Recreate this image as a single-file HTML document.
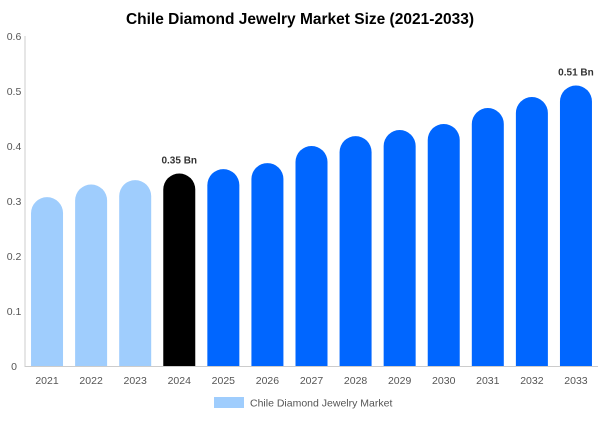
<!DOCTYPE html>
<html><head><meta charset="utf-8"><style>
body{margin:0;background:#fff;font-family:"Liberation Sans",Arial,sans-serif}
</style></head><body>
<svg id="chart" width="600" height="416" xmlns="http://www.w3.org/2000/svg" font-family="Liberation Sans, Arial, sans-serif">
<text x="300" y="24" text-anchor="middle" font-size="15.5" font-weight="bold" fill="#000">Chile Diamond Jewelry Market Size (2021-2033)</text>
<g id="axes"></g><g id="bars"></g>
<g>
<rect x="214" y="397" width="30" height="11" fill="#9fcdfd"/>
<text x="250" y="406.5" font-size="10.5" fill="#555">Chile Diamond Jewelry Market</text>
</g>
</svg>
<script>
const categories=["2021","2022","2023","2024","2025","2026","2027","2028","2029","2030","2031","2032","2033"];
const values=[0.307,0.33,0.338,0.35,0.358,0.369,0.40,0.418,0.429,0.44,0.469,0.489,0.51];
const yTicks=[0,0.1,0.2,0.3,0.4,0.5,0.6];
const labels={"2024":"0.35 Bn","2033":"0.51 Bn"};
const NS="http://www.w3.org/2000/svg";
const x0=25,x1=598,y0=366,yTop=36,band=(x1-x0)/categories.length,bw=32;
const y=v=>y0-(v/0.6)*(y0-yTop);
const xc=i=>x0+band*(i+0.5);
function mk(t,a,p){const e=document.createElementNS(NS,t);for(const k in a)e.setAttribute(k,a[k]);p.appendChild(e);return e;}
const ax=document.getElementById('axes'),bars=document.getElementById('bars');
const yl=mk('line',{x1:x0,y1:yTop,x2:x0,y2:y0+1,stroke:'#ccc'},ax);


const xl=mk('line',{x1:x0,y1:y0+0.5,x2:x1,y2:y0+0.5,stroke:'#ccc'},ax);


yTicks.forEach(t=>{const e=mk('text',{x:14,y:y(t)+4,'text-anchor':'middle','font-size':'10.5',fill:'#555'},ax);e.textContent=String(t);

});
categories.forEach((c,i)=>{
 const cx=xc(i),top=y(values[i]),r=bw/2;
 const col=i<3?'#9fcdfd':(c==='2024'?'#000':'#0066ff');
 const p=mk('path',{d:`M${cx-r},${y0} V${top+r} A${r},${r} 0 0 1 ${cx+r},${top+r} V${y0} Z`,fill:col},bars);
 
 
 const t=mk('text',{x:cx,y:384,'text-anchor':'middle','font-size':'10.5',fill:'#555'},ax);t.textContent=c;
 
 
 if(labels[c]){const l=mk('text',{x:cx,y:top-10,'text-anchor':'middle','font-size':'10','font-weight':'bold',fill:'#333'},bars);l.textContent=labels[c];
 
 }
});
</script>
</body></html>
